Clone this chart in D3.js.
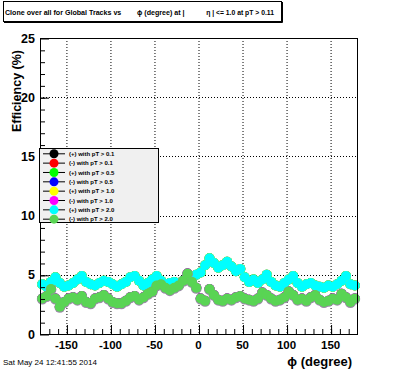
<!DOCTYPE html>
<html>
<head>
<meta charset="utf-8">
<script src="https://cdn.jsdelivr.net/npm/d3@7"></script>
<style>
  body { margin: 0; background: #fff; }
  svg { display: block; font-family: "Liberation Sans", Arial, sans-serif; }
</style>
</head>
<body>
<svg id="chart"></svg>
<script>
// bin centres (degree)
const phi = [-177.5, -172.5, -167.5, -162.5, -157.5, -152.5, -147.5, -142.5, -137.5, -132.5,
  -127.5, -122.5, -117.5, -112.5, -107.5, -102.5, -97.5, -92.5, -87.5, -82.5,
  -77.5, -72.5, -67.5, -62.5, -57.5, -52.5, -47.5, -42.5, -37.5, -32.5,
  -27.5, -22.5, -17.5, -12.5, -7.5, -2.5, 2.5, 7.5, 12.5, 17.5,
  22.5, 27.5, 32.5, 37.5, 42.5, 47.5, 52.5, 57.5, 62.5, 67.5,
  72.5, 77.5, 82.5, 87.5, 92.5, 97.5, 102.5, 107.5, 112.5, 117.5,
  122.5, 127.5, 132.5, 137.5, 142.5, 147.5, 152.5, 157.5, 162.5, 167.5,
  172.5, 177.5]

// (+) tracks, clone rate (%)
const plusVals = [4.2, 4.0, 4.4, 4.8, 4.3, 4.0, 4.1, 4.3, 4.6, 4.9,
  4.4, 4.2, 4.1, 4.3, 4.5, 4.4, 4.2, 4.0, 4.2, 4.4,
  4.8, 4.9, 4.5, 4.1, 4.3, 4.6, 4.9, 4.5, 4.2, 4.3,
  4.4, 4.2, 4.5, 4.7, 4.6, 5.0, 5.2, 5.8, 6.4, 6.0,
  5.6, 5.8, 6.1, 5.7, 5.3, 5.5, 4.8, 4.4, 4.6, 4.3,
  4.6, 5.0, 4.4, 4.1, 4.0, 4.3, 4.6, 4.9, 4.3, 4.0,
  4.2, 4.3, 4.1, 4.0, 3.9, 4.1, 4.0, 4.2, 4.5, 4.9,
  4.2, 4.1]

// (-) tracks, clone rate (%)
const minusVals = [3.0, 3.2, 3.8, 3.0, 2.3, 2.7, 3.0, 3.1, 2.9, 3.2,
  2.7, 2.6, 3.0, 3.1, 3.3, 3.0, 2.7, 2.6, 2.6, 2.8,
  3.1, 3.2, 2.9, 3.1, 3.4, 3.6, 4.1, 4.2, 3.9, 3.7,
  3.9, 4.1, 4.5, 5.1, 4.4, 3.9, 3.0, 2.8, 3.8, 3.3,
  2.9, 2.8, 3.0, 2.9, 3.1, 3.2, 3.0, 2.9, 2.8, 3.0,
  3.5, 3.3, 3.0, 2.8, 2.9, 3.1, 3.6, 3.3, 2.9, 3.0,
  2.8, 3.1, 3.3, 2.9, 2.7, 2.8, 3.0, 2.9, 3.4, 3.1,
  2.7, 3.0]

const seriesNames = ['(+) with pT > 0.1', '(-) with pT > 0.1', '(+) with pT > 0.5', '(-) with pT > 0.5',
  '(+) with pT > 1.0', '(-) with pT > 1.0', '(+) with pT > 2.0', '(-) with pT > 2.0']
const seriesColors = ['#000000', '#ff0000', '#00ff00', '#0000ff', '#ffff00', '#ff00ff', '#00ffff', '#59d454']
const seriesValues = [plusVals, minusVals, plusVals, minusVals, plusVals, minusVals, plusVals, minusVals]

const xTicks = [-150, -100, -50, 0, 50, 100, 150]
const yTicks = [0, 5, 10, 15, 20, 25]

const w = 396
const h = 372
const frameL = 40, frameR = 357, frameT = 38, frameB = 334

const svg = d3.select('#chart').attr('width', w).attr('height', h)

const xScale = d3.scaleLinear().domain([-180, 180]).range([frameL, frameR])
const yScale = d3.scaleLinear().domain([0, 25]).range([frameB, frameT])

// grid
svg.append('g')
  .selectAll('line')
  .data(xTicks)
  .enter()
  .append('line')
    .attr('x1', d => xScale(d) + 0.5).attr('x2', d => xScale(d) + 0.5)
    .attr('y1', frameT).attr('y2', frameB)
    .attr('stroke', '#000').attr('stroke-dasharray', '1,2')
svg.append('g')
  .selectAll('line')
  .data(yTicks.filter(d => d > 0 && d < 25))
  .enter()
  .append('line')
    .attr('x1', frameL).attr('x2', frameR)
    .attr('y1', d => Math.round(yScale(d)) + 0.5).attr('y2', d => Math.round(yScale(d)) + 0.5)
    .attr('stroke', '#000').attr('stroke-dasharray', '1,2')

// data points
const plot = svg.append('g')
seriesValues.forEach((vals, i) => {
  const pts = phi.map((p, j) => ({ p: p, v: vals[j] }))
  if (i === 7) {
    // grey fringe left by the lower-pT (-) series below
    plot.append('g').selectAll('circle')
      .data(pts).enter().append('circle')
        .attr('cx', d => xScale(d.p))
        .attr('cy', d => yScale(d.v) + 0.6)
        .attr('r', 5.4)
        .attr('fill', '#9a8aa6')
  }
  plot.append('g').selectAll('circle')
    .data(pts).enter().append('circle')
      .attr('cx', d => xScale(d.p))
      .attr('cy', d => yScale(d.v))
      .attr('r', 5)
      .attr('fill', seriesColors[i])
})

// axes: ROOT style ticks pointing inward
svg.append('g').attr('transform', `translate(0.5, ${frameB})`)
  .call(d3.axisTop(xScale).tickValues(d3.range(-170, 180, 10)).tickSize(5).tickFormat(''))
  .call(g => g.select('.domain').remove())
svg.append('g').attr('transform', `translate(0.5, ${frameB})`)
  .call(d3.axisTop(xScale).tickValues(xTicks).tickSize(9).tickFormat(''))
  .call(g => g.select('.domain').remove())

svg.append('g').attr('transform', `translate(${frameL}, 0.5)`)
  .call(d3.axisRight(yScale).tickValues(d3.range(1, 25, 1)).tickSize(5).tickFormat(''))
  .call(g => g.select('.domain').remove())
svg.append('g').attr('transform', `translate(${frameL}, 0.5)`)
  .call(d3.axisRight(yScale).tickValues(yTicks).tickSize(9).tickFormat(''))
  .call(g => g.select('.domain').remove())

svg.selectAll('.tick line').attr('stroke', '#000')

// frame
svg.append('rect')
  .attr('x', frameL + 0.5).attr('y', frameT + 0.5)
  .attr('width', frameR - frameL).attr('height', frameB - frameT)
  .attr('fill', 'none').attr('stroke', '#000')

// tick labels
svg.append('g')
  .selectAll('text')
  .data(xTicks)
  .enter()
  .append('text')
    .attr('x', d => xScale(d))
    .attr('y', 348.5)
    .attr('text-anchor', 'middle')
    .attr('font-size', 11.5).attr('font-weight', 'bold')
    .text(d => d)
svg.append('g')
  .selectAll('text')
  .data(yTicks)
  .enter()
  .append('text')
    .attr('x', 35)
    .attr('y', d => yScale(d) + 4.5)
    .attr('text-anchor', 'end')
    .attr('font-size', 12.5).attr('font-weight', 'bold')
    .text(d => d)

// axis titles
svg.append('text')
  .attr('transform', 'translate(21, 50) rotate(-90)')
  .attr('text-anchor', 'end')
  .attr('font-size', 12.5).attr('font-weight', 'bold')
  .text('Efficiency (%)')
svg.append('text')
  .attr('x', 352).attr('y', 366)
  .attr('text-anchor', 'end')
  .attr('font-size', 13).attr('font-weight', 'bold')
  .text('ϕ (degree)')

// title box
svg.append('rect')
  .attr('x', 3.5).attr('y', 1.5).attr('width', 278).attr('height', 20)
  .attr('fill', '#fff').attr('stroke', '#000')
svg.append('path')
  .attr('d', 'M4,22.5 H282.5 V2')
  .attr('fill', 'none').attr('stroke', '#000')
svg.append('text')
  .attr('x', 5).attr('y', 15)
  .attr('font-size', 7.1).attr('font-weight', 'bold')
  .text('Clone  over all for Global Tracks vs')
svg.append('text')
  .attr('x', 137).attr('y', 15)
  .attr('font-size', 7.1).attr('font-weight', 'bold')
  .text('ϕ (degree) at |')
svg.append('text')
  .attr('x', 274).attr('y', 15)
  .attr('text-anchor', 'end')
  .attr('font-size', 6.8).attr('font-weight', 'bold')
  .text('η | <= 1.0 at pT > 0.11')

// legend
const leg = svg.append('g')
leg.append('rect')
  .attr('x', 39.5).attr('y', 148.5).attr('width', 119).attr('height', 74)
  .attr('fill', '#f0f0f0').attr('stroke', '#000')
const rows = leg.selectAll('g.row')
  .data(seriesNames)
  .enter()
  .append('g')
    .attr('class', 'row')
    .attr('transform', (d, i) => `translate(0, ${153.3 + i * 9.34})`)
rows.append('line')
  .attr('x1', 43).attr('x2', 65).attr('y1', 0.5).attr('y2', 0.5)
  .attr('stroke', '#000')
rows.append('circle')
  .attr('cx', 54).attr('cy', 0.5).attr('r', 4.5)
  .attr('fill', (d, i) => seriesColors[i])
rows.append('text')
  .attr('x', 69).attr('y', 2.8)
  .attr('font-size', 6).attr('font-weight', 'bold')
  .text(d => d)

// date stamp
svg.append('text')
  .attr('x', 3).attr('y', 365)
  .attr('font-size', 8)
  .text('Sat May 24 12:41:55 2014')
</script>
</body>
</html>
